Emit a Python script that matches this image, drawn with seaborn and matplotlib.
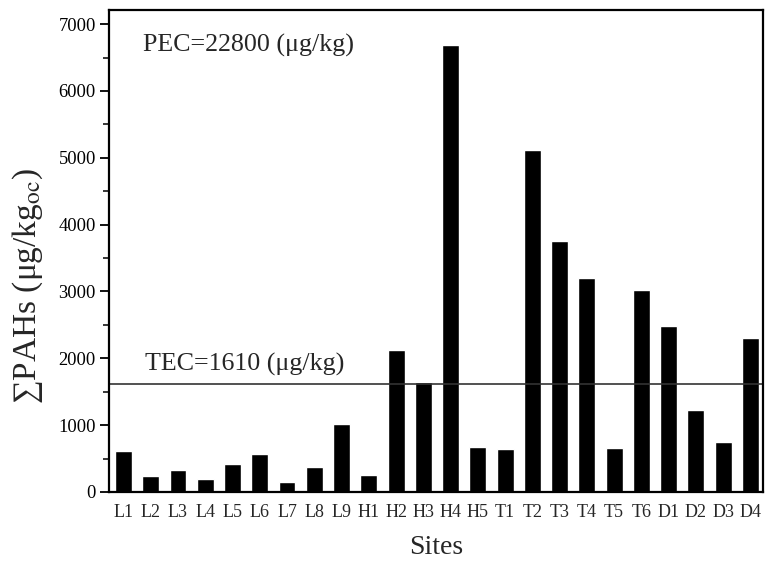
import numpy as np
import pandas as pd
import matplotlib
matplotlib.use("Agg")
import matplotlib.pyplot as plt
import seaborn as sns
from matplotlib.ticker import MultipleLocator

# Sitios y concentraciones (lectura del gráfico)
sites = ["L1", "L2", "L3", "L4", "L5", "L6", "L7", "L8", "L9",
         "H1", "H2", "H3", "H4", "H5",
         "T1", "T2", "T3", "T4", "T5", "T6",
         "D1", "D2", "D3", "D4"]
pahs = [620, 240, 330, 190, 420, 575, 155, 380, 1020,
        260, 2130, 1650, 6690, 670,
        640, 5110, 3760, 3200, 660, 3025,
        2480, 1220, 750, 2310]
tec = 1610
pec_label = "PEC=22800 (μg/kg)"
tec_label = "TEC=1610 (μg/kg)"

sns.set_theme(style="ticks")
plt.rcParams["font.family"] = ["Liberation Serif", "DejaVu Serif"]
plt.rcParams["mathtext.fontset"] = "stix"

df = pd.DataFrame({"Site": sites, "PAHs": pahs})

fig = plt.figure(figsize=(7.72, 5.61), dpi=100)
ax = fig.add_axes([0.1412, 0.123, 0.8471, 0.859])

sns.barplot(data=df, x="Site", y="PAHs", color="black", saturation=1,
            width=0.62, ax=ax)
ax.axhline(tec, color="#333333", lw=1.2)

ax.set_xlim(-0.53, len(sites) - 0.54)
ax.set_ylim(0, 7210)
ax.yaxis.set_major_locator(MultipleLocator(1000))
ax.yaxis.set_minor_locator(MultipleLocator(500))
ax.tick_params(axis="y", which="major", length=6.5, width=1.3, labelsize=13.3,
               direction="out", colors="black", pad=3)
ax.tick_params(axis="y", which="minor", length=4, width=1.3, direction="out")
ax.tick_params(axis="x", length=0, labelsize=13, pad=9)

for s in ax.spines.values():
    s.set_visible(True)
    s.set_linewidth(1.6)
    s.set_color("black")

ax.text(0.052, 0.927, pec_label, transform=ax.transAxes, fontsize=18.7,
        va="center", ha="left")
ax.text(0.055, 1910, tec_label, transform=ax.get_yaxis_transform(),
        fontsize=18.7, va="center", ha="left")

ax.set_xlabel("Sites", fontsize=20, labelpad=10)
ax.set_ylabel("∑PAHs (μg/kg$_{\\mathrm{oc}}$)", fontsize=24)
ax.yaxis.set_label_coords(-0.098, 0.427)

fig.savefig("out.png", dpi=100)
